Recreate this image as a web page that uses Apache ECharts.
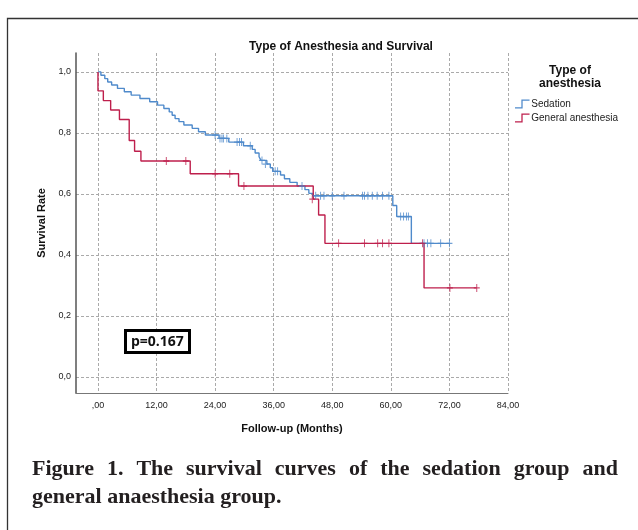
<!DOCTYPE html>
<html><head><meta charset="utf-8">
<script src="https://cdn.jsdelivr.net/npm/echarts@6/dist/echarts.min.js"></script>
<style>html,body{margin:0;padding:0;background:#fff}#c{width:638px;height:530px}</style>
</head><body><div id="c"></div>
<script>
// ---- data ----
const xTicks = [0, 12, 24, 36, 48, 60, 72, 84];
const yTicks = [0, 0.2, 0.4, 0.6, 0.8, 1.0];
const seriesNames = ['Sedation', 'General anesthesia'];

// Sedation: event times (months) and survival after each step
const sedTime = [0, 0.6, 1.4, 2.0, 2.8, 4.0, 5.4, 6.8, 8.6, 10.6, 12.2, 13.5, 14.6, 15.2, 15.8, 16.6, 17.6, 19.3, 20.6, 22.0, 24.8, 26.8, 29.8, 31.6, 32.2, 33.0, 33.4, 34.6, 35.3, 35.8, 37.4, 38.2, 39.3, 40.8, 42.4, 43.2, 44.0, 60.4, 61.2, 64.2, 72.0];
const sedSurv = [1.0, 0.989, 0.978, 0.967, 0.957, 0.946, 0.935, 0.924, 0.913, 0.902, 0.891, 0.880, 0.869, 0.858, 0.847, 0.837, 0.826, 0.815, 0.804, 0.793, 0.782, 0.770, 0.758, 0.746, 0.734, 0.722, 0.710, 0.698, 0.686, 0.674, 0.662, 0.650, 0.638, 0.626, 0.614, 0.602, 0.594, 0.562, 0.526, 0.438, 0.438];
const sedCensorTime = [24.0, 25.0, 25.4, 25.7, 26.4, 28.5, 29.0, 29.4, 31.2, 33.6, 34.3, 36.3, 36.8, 41.8, 44.6, 45.6, 46.3, 48.0, 50.4, 54.2, 54.6, 55.3, 56.2, 57.2, 58.3, 59.6, 62.0, 62.6, 63.2, 63.6, 66.8, 67.5, 68.2, 70.2, 72.0];
const sedCensorSurv = [0.793, 0.782, 0.782, 0.782, 0.782, 0.770, 0.770, 0.770, 0.758, 0.710, 0.698, 0.674, 0.674, 0.626, 0.594, 0.594, 0.594, 0.594, 0.594, 0.594, 0.594, 0.594, 0.594, 0.594, 0.594, 0.594, 0.526, 0.526, 0.526, 0.526, 0.438, 0.438, 0.438, 0.438, 0.438];

// General anesthesia
const genTime = [0, 0, 1.1, 2.6, 4.4, 6.4, 7.5, 8.8, 18.9, 28.8, 44.1, 45.2, 46.5, 66.8, 77.6];
const genSurv = [1.0, 0.938, 0.906, 0.875, 0.844, 0.775, 0.740, 0.708, 0.666, 0.626, 0.583, 0.531, 0.438, 0.292, 0.292];
const genCensorTime = [14.0, 18.0, 24.0, 27.0, 29.9, 43.9, 49.3, 54.6, 57.3, 58.3, 59.6, 66.5, 72.1, 77.6];
const genCensorSurv = [0.708, 0.708, 0.666, 0.666, 0.626, 0.583, 0.438, 0.438, 0.438, 0.438, 0.438, 0.438, 0.292, 0.292];

const pText = 'p=0.167';
const chartTitle = 'Type of Anesthesia and Survival';
const legendTitle = 'Type of\nanesthesia';
const xName = 'Follow-up (Months)';
const yName = 'Survival Rate';
const captionLine1 = 'Figure 1. The survival curves of the sedation group and';
const captionLine2 = 'general anaesthesia group.';

// ---- styling ----
const colSed = '#4f8acb';
const colGen = '#be1f4c';
const FONT = 'Liberation Sans';
const pair = (a, b) => a.map((v, i) => [v, b[i]]);
const crossPath = 'path://M3,0V8M0,4H6';

// justify caption line 1
const cv = document.createElement('canvas').getContext('2d');
const capFont = 'bold 22px "Liberation Serif"';
cv.font = capFont;
const words = captionLine1.split(' ');
const capL = 32, capR = 618;
const wW = words.map(w => cv.measureText(w).width);
const gap = (capR - capL - wW.reduce((a, b) => a + b, 0)) / (words.length - 1);
let cx = capL;
const capEls = words.map((w, i) => {
  const el = { type: 'text', left: cx, top: 458, style: { text: w, font: capFont, fill: '#231f20' } };
  cx += wW[i] + gap;
  return el;
});
capEls.push({ type: 'text', left: capL, top: 486, style: { text: captionLine2, font: capFont, fill: '#231f20' } });

const chart = echarts.init(document.getElementById('c'), null, { renderer: 'canvas' });
chart.setOption({
  backgroundColor: '#fff',
  animation: false,
  textStyle: { fontFamily: FONT },
  title: [
    { text: chartTitle, left: 336, top: 36, textAlign: 'center',
      textStyle: { fontFamily: FONT, fontSize: 12, fontWeight: 'bold', color: '#111' } },
    { text: legendTitle, left: 565, top: 59, textAlign: 'center',
      textStyle: { fontFamily: FONT, fontSize: 12, fontWeight: 'bold', color: '#111', lineHeight: 13 } },
    { text: pText, left: 125, top: 330, padding: [5, 6, 4, 6], borderColor: '#000', borderWidth: 3, backgroundColor: '#fff',
      textStyle: { fontFamily: 'Open Sans', fontSize: 14, fontWeight: 'bold', color: '#111' } }
  ],
  legend: {
    left: 510, top: 94, orient: 'vertical', itemGap: 4, itemWidth: 16, itemHeight: 9,
    textStyle: { fontFamily: FONT, fontSize: 10, color: '#222', padding: [0, 0, 0, -4] },
    data: [
      { name: seriesNames[0], icon: 'path://M0,8.5H7V0H16V1.4H8.4V9.9H0Z', itemStyle: { color: colSed } },
      { name: seriesNames[1], icon: 'path://M0,8.5H7V0H16V1.4H8.4V9.9H0Z', itemStyle: { color: colGen } }
    ]
  },
  grid: { left: 76, right: 130, top: 53, bottom: 137, containLabel: false },
  xAxis: {
    type: 'value', min: -4.5, max: 84,
    name: xName, nameLocation: 'middle', nameGap: 30,
    nameTextStyle: { fontFamily: FONT, fontSize: 11, fontWeight: 'bold', color: '#111' },
    axisLine: { show: true, onZero: false, lineStyle: { color: '#777', width: 1 } },
    axisTick: { show: false, customValues: xTicks },
    axisLabel: { customValues: xTicks, margin: 8, fontSize: 9, color: '#222', fontFamily: FONT,
      formatter: v => (v === 0 ? ',00' : v.toFixed(2).replace('.', ',')) },
    splitLine: { show: true, lineStyle: { color: '#aaa', type: [3, 2], width: 1 } }
  },
  yAxis: {
    type: 'value', min: -0.0525, max: 1.062,
    name: yName, nameLocation: 'middle', nameGap: 26, nameRotate: 90,
    nameTextStyle: { fontFamily: FONT, fontSize: 11, fontWeight: 'bold', color: '#111' },
    axisLine: { show: true, onZero: false, lineStyle: { color: '#555', width: 1.5 } },
    axisTick: { show: false, customValues: yTicks },
    axisLabel: { customValues: yTicks, margin: 5, fontSize: 9, color: '#222', fontFamily: FONT,
      formatter: v => v.toFixed(1).replace('.', ',') },
    splitLine: { show: true, lineStyle: { color: '#aaa', type: [3, 2], width: 1 } }
  },
  graphic: [
    { type: 'rect', shape: { x: 7.5, y: 18.5, width: 800, height: 700 }, style: { fill: 'none', stroke: '#333', lineWidth: 1.3 }, silent: true, z: -10 },
    ...capEls
  ],
  series: [
    { name: seriesNames[0], type: 'line', step: 'end', data: pair(sedTime, sedSurv), showSymbol: false,
      lineStyle: { color: colSed, width: 1.4 }, itemStyle: { color: colSed }, z: 3 },
    { name: seriesNames[1], type: 'line', step: 'end', data: pair(genTime, genSurv), showSymbol: false,
      lineStyle: { color: colGen, width: 1.4 }, itemStyle: { color: colGen }, z: 4 },
    { name: seriesNames[0], type: 'scatter', data: pair(sedCensorTime, sedCensorSurv), symbol: crossPath, symbolSize: [6, 8],
      itemStyle: { color: 'none', borderColor: colSed, borderWidth: 1.1 }, z: 5 },
    { name: seriesNames[1], type: 'scatter', data: pair(genCensorTime, genCensorSurv), symbol: crossPath, symbolSize: [6, 8],
      itemStyle: { color: 'none', borderColor: colGen, borderWidth: 1.1 }, z: 6 }
  ]
});
</script></body></html>
